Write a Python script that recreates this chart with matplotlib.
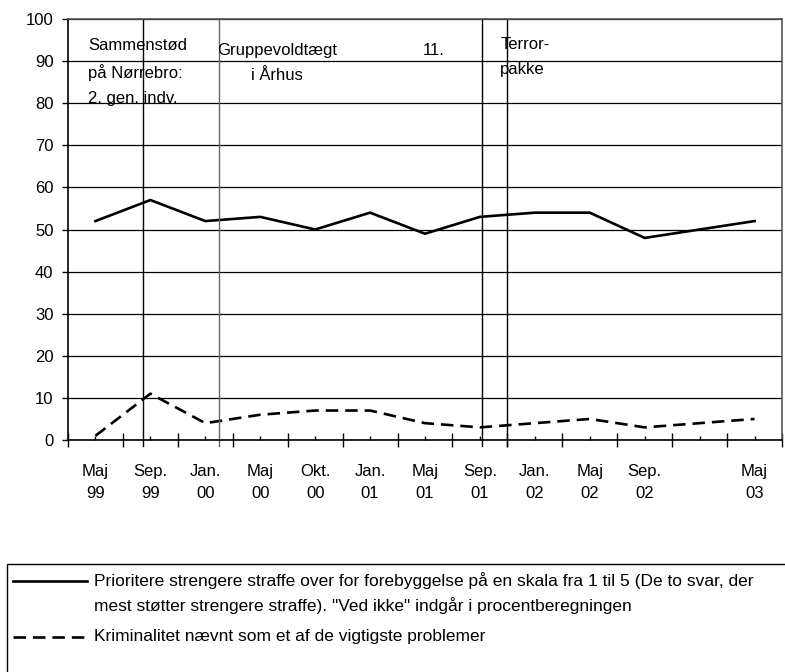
import matplotlib
matplotlib.use('Agg')
import matplotlib.pyplot as plt
import pandas as pd
from matplotlib.lines import Line2D
from matplotlib.patches import Rectangle

# Category labels (one empty slot between Sep. 02 and Maj 03)
categories = ['Maj\n99', 'Sep.\n99', 'Jan.\n00', 'Maj\n00', 'Okt.\n00', 'Jan.\n01',
              'Maj\n01', 'Sep.\n01', 'Jan.\n02', 'Maj\n02', 'Sep.\n02', '', 'Maj\n03']

# Series values (None = no measurement)
straffe = [52, 57, 52, 53, 50, 54, 49, 53, 54, 54, 48, None, 52]
kriminalitet = [1, 11, 4, 6, 7, 7, 4, 3, 4, 5, 3, None, 5]

# Events marked with vertical lines (position on the category axis)
event_x = [0.87, 2.25, 7.03, 7.49]
event_colors = ['black', '#666666', 'black', 'black']

label_straffe = ('Prioritere strengere straffe over for forebyggelse på en skala fra 1 til 5 '
                 '(De to svar, der')
label_straffe2 = 'mest støtter strengere straffe). "Ved ikke" indgår i procentberegningen'
label_krim = 'Kriminalitet nævnt som et af de vigtigste problemer'

plt.rcParams['font.family'] = ['Liberation Sans', 'DejaVu Sans']
plt.rcParams['lines.scale_dashes'] = False

W, H = 785, 672
fig = plt.figure(figsize=(W / 100, H / 100), dpi=100)
ax = fig.add_axes([68 / W, 1 - 440 / H, 714 / W, 421 / H])

n = len(categories)
ax.set_xlim(-0.5, n - 0.5)
ax.set_ylim(0, 100)

# gridlines
ax.set_yticks(range(0, 101, 10))
ax.yaxis.grid(True, color='black', linewidth=0.9)
ax.set_axisbelow(True)

# series
s1 = pd.Series(straffe, dtype=float).dropna()
s2 = pd.Series(kriminalitet, dtype=float).dropna()
ax.plot(s1.index, s1.values, color='black', linewidth=1.9, solid_joinstyle='miter')
ax.plot(s2.index, s2.values, color='black', linewidth=1.9, dashes=(9, 5))

# event lines
for x, c in zip(event_x, event_colors):
    ax.plot([x, x], [-1.45, 100], color=c, linewidth=1.0, clip_on=False)

# annotations
fs = 12
ax.text(-0.135, 95.5, 'Sammenstød\npå Nørrebro:\n2. gen. indv.', fontsize=fs,
        va='top', ha='left', linespacing=1.8)
ax.text(3.31, 94.2, 'Gruppevoldtægt\ni Århus', fontsize=fs, va='top', ha='center',
        multialignment='center', linespacing=1.8)
ax.text(6.15, 94.2, '11.', fontsize=fs, va='top', ha='center')
ax.text(7.37, 95.7, 'Terror-\npakke', fontsize=fs, va='top', ha='left', linespacing=1.8)

# x axis: boundary ticks crossing the axis, centre ticks inside with labels
ax.set_xticks([i - 0.5 for i in range(n + 1)])
ax.set_xticklabels([])
ax.set_xticks(range(n), minor=True)
ax.set_xticklabels(categories, minor=True, fontsize=fs, linespacing=1.65)
ax.tick_params(axis='x', which='major', direction='inout', length=10, width=1)
ax.tick_params(axis='x', which='minor', direction='in', length=3, width=1, pad=17)
ax.tick_params(axis='y', direction='out', length=4.5, width=1, pad=6, labelsize=fs)

for side in ['left', 'bottom']:
    ax.spines[side].set_linewidth(1.2)
    ax.spines[side].set_color('black')
for side in ['top', 'right']:
    ax.spines[side].set_linewidth(1.2)
    ax.spines[side].set_color('#555555')

# legend box (runs past the figure edge)
fig.patches.append(Rectangle((7 / W, -0.2), 1.0, 0.2 + (1 - 564 / H), transform=fig.transFigure,
                             fill=False, edgecolor='black', linewidth=1.0))
fig.lines.append(Line2D([13 / W, 87 / W], [1 - 581 / H] * 2, transform=fig.transFigure,
                        color='black', linewidth=1.9))
fig.lines.append(Line2D([13 / W, 87 / W], [1 - 637 / H] * 2, transform=fig.transFigure,
                        color='black', linewidth=1.9, dashes=(9, 5)))
fs_leg = 12.5
fig.text(94 / W, 1 - 581 / H, label_straffe, fontsize=fs_leg, va='center', ha='left')
fig.text(94 / W, 1 - 606 / H, label_straffe2, fontsize=fs_leg, va='center', ha='left')
fig.text(94 / W, 1 - 637 / H, label_krim, fontsize=fs_leg, va='center', ha='left')

fig.savefig('out.png', dpi=100)
